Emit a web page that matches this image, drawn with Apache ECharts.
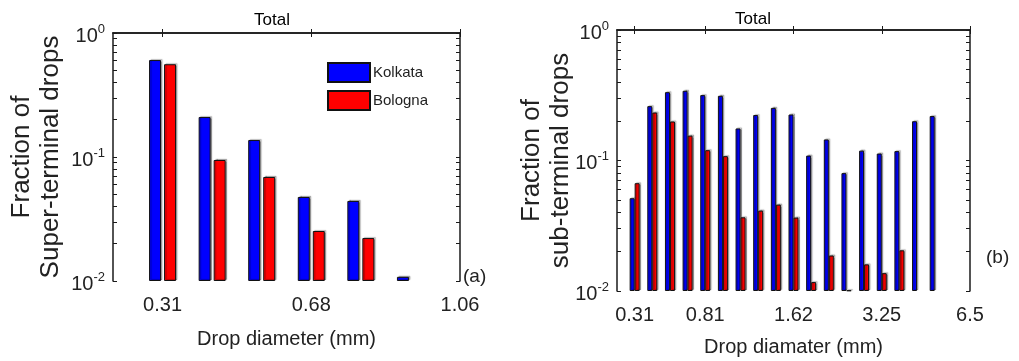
<!DOCTYPE html>
<html>
<head>
<meta charset="utf-8">
<script src="https://cdn.jsdelivr.net/npm/echarts@6/dist/echarts.min.js"></script>
<style>
  html, body { margin: 0; padding: 0; background: #fff; }
  #chart { width: 1019px; height: 361px; }
</style>
</head>
<body>
<div id="chart"></div>
<script>
// panel (a): super-terminal drops, bins at positions 1..6 of a 0..7 axis
const superCats = ['', '0.31', '', '', '0.68', '', '', '1.06']
const superKolkata = [0.605, 0.21, 0.137, 0.0476, 0.0442, 0.0108]
const superBologna = [0.56, 0.0946, 0.069, 0.0253, 0.0222, null]

// panel (b): sub-terminal drops, bins at positions 1..18 of a 0..20 axis
const subCats = ['', '0.31', '', '', '', '0.81', '', '', '', '', '1.62', '', '', '', '', '3.25', '', '', '', '', '6.5']
const subKolkata = [0.0514, 0.261, 0.334, 0.342, 0.317, 0.313, 0.176, 0.223, 0.253, 0.225,
  0.109, 0.145, 0.080, 0.119, 0.113, 0.118, 0.200, 0.219]
const subBologna = [0.067, 0.233, 0.199, 0.155, 0.120, 0.108, 0.0367, 0.0413, 0.0459, 0.0365,
  0.0117, 0.0187, 0.0101, 0.016, 0.0137, 0.0205, null, null]

const yMin = 0.01
const yMax = 1
const decades = [0.01, 0.1, 1]
const mantissas = [1, 2, 3, 4, 5, 6, 7, 8, 9]

const FONT = "'Liberation Sans', Arial, sans-serif"
const BLUE = '#0000ff'
const RED = '#ff0000'
const INK = '#1a1a1a'

// tick positions in log space, used by the overlay axes
const logTicks = []
decades.slice(0, -1).forEach(d => mantissas.forEach(m => logTicks.push(Math.log10(d * m))))
logTicks.push(Math.log10(yMax))

function pad(arr, n) {
  const out = [null].concat(arr)
  while (out.length < n) out.push(null)
  return out
}

const chart = echarts.init(document.getElementById('chart'))

const grids = [
  { left: 113, right: 559, top: 33, bottom: 80, outerBoundsMode: 'none', containLabel: false },
  { left: 617, right: 49, top: 30, bottom: 70, outerBoundsMode: 'none', containLabel: false }
]

function xAxes(gi, cats, nameGap, name) {
  const hasLabel = (i, v) => v !== ''
  return [
    {
      type: 'category', gridIndex: gi, data: cats, boundaryGap: false,
      axisLine: { lineStyle: { color: INK, width: 1.5 } },
      axisTick: { inside: true, length: 4, interval: hasLabel, lineStyle: { color: INK } },
      axisLabel: { interval: 0, color: '#222', fontFamily: FONT, fontSize: 20, margin: 14 },
      name: name, nameLocation: 'middle', nameGap: nameGap,
      nameTextStyle: { color: '#222', fontFamily: FONT, fontSize: 20 },
      splitLine: { show: false }
    },
    {
      type: 'category', gridIndex: gi, data: cats, boundaryGap: false, position: 'top',
      axisLine: { lineStyle: { color: INK, width: 1.5 } },
      axisTick: { inside: true, length: 4, interval: hasLabel, lineStyle: { color: INK } },
      axisLabel: { show: false },
      splitLine: { show: false }
    }
  ]
}

function yAxes(gi, name, nameGap) {
  return [
    {
      type: 'log', logBase: 10, gridIndex: gi, min: yMin, max: yMax, startValue: yMin,
      axisLine: { show: true, lineStyle: { color: INK, width: 1.5 } },
      axisTick: { show: false },
      splitLine: { show: false },
      axisLabel: {
        margin: 8, color: '#222',
        formatter: v => '{b|10}{s|' + Math.round(Math.log10(v)) + '}',
        rich: {
          b: { fontFamily: FONT, fontSize: 20, color: '#222', padding: [6, 0, 0, 0] },
          s: { fontFamily: FONT, fontSize: 13, color: '#222', padding: [0, 0, 8, 0] }
        }
      },
      name: name, nameLocation: 'middle', nameGap: nameGap, nameMoveOverlap: false,
      nameTextStyle: { color: '#222', fontFamily: FONT, fontSize: 26, lineHeight: 29 }
    },
    {
      type: 'value', gridIndex: gi, min: -2, max: 0, position: 'left',
      axisLine: { show: false },
      axisTick: { show: true, inside: true, length: 4, customValues: logTicks, lineStyle: { color: INK } },
      axisLabel: { show: false },
      splitLine: { show: false }
    },
    {
      type: 'value', gridIndex: gi, min: -2, max: 0, position: 'right',
      axisLine: { show: true, lineStyle: { color: INK, width: 1.5 } },
      axisTick: { show: true, inside: true, length: 4, customValues: logTicks, lineStyle: { color: INK } },
      axisLabel: { show: false },
      splitLine: { show: false }
    }
  ]
}

function barStyle(color) {
  return {
    color: color, borderColor: '#111', borderWidth: 1,
    shadowColor: 'rgba(0,0,0,0.3)', shadowBlur: 1, shadowOffsetX: 1.5, shadowOffsetY: -1
  }
}

chart.setOption({
  animation: false,
  textStyle: { fontFamily: FONT },
  grid: grids,
  legend: {
    left: 327, top: 62, orient: 'vertical', padding: 0,
    itemWidth: 42, itemHeight: 19, itemGap: 7,
    icon: 'rect',
    data: ['Kolkata', 'Bologna'],
    textStyle: { color: '#222', fontFamily: FONT, fontSize: 15, padding: [0, 0, 0, -2] }
  },
  xAxis: [
    ...xAxes(0, superCats, 48, 'Drop diameter (mm)'),
    ...xAxes(1, subCats, 46, 'Drop diamater (mm)')
  ],
  yAxis: [
    ...yAxes(0, 'Fraction of\nSuper-terminal drops', 48),
    ...yAxes(1, 'Fraction of\nsub-terminal drops', 42)
  ],
  series: [
    {
      name: 'Kolkata', type: 'bar', xAxisIndex: 0, yAxisIndex: 0,
      data: pad(superKolkata, superCats.length),
      barWidth: 12, barGap: '25%', itemStyle: barStyle(BLUE)
    },
    {
      name: 'Bologna', type: 'bar', xAxisIndex: 0, yAxisIndex: 0,
      data: pad(superBologna, superCats.length),
      barWidth: 12, barGap: '25%', itemStyle: barStyle(RED)
    },
    {
      name: 'Kolkata', type: 'bar', xAxisIndex: 2, yAxisIndex: 3,
      data: pad(subKolkata, subCats.length),
      barWidth: 5, barGap: '0%', itemStyle: barStyle(BLUE)
    },
    {
      name: 'Bologna', type: 'bar', xAxisIndex: 2, yAxisIndex: 3,
      data: pad(subBologna, subCats.length),
      barWidth: 5, barGap: '0%', itemStyle: barStyle(RED)
    }
  ],
  graphic: [
    { type: 'text', x: 272, y: 20, style: { text: 'Total', font: '17px ' + FONT, fill: '#000', align: 'center', verticalAlign: 'middle' } },
    { type: 'text', x: 753, y: 19, style: { text: 'Total', font: '17px ' + FONT, fill: '#000', align: 'center', verticalAlign: 'middle' } },
    { type: 'text', x: 463, y: 277, style: { text: '(a)', font: '19px ' + FONT, fill: '#222', verticalAlign: 'middle' } },
    { type: 'text', x: 986, y: 258, style: { text: '(b)', font: '19px ' + FONT, fill: '#222', verticalAlign: 'middle' } }
  ]
})
</script>
</body>
</html>
